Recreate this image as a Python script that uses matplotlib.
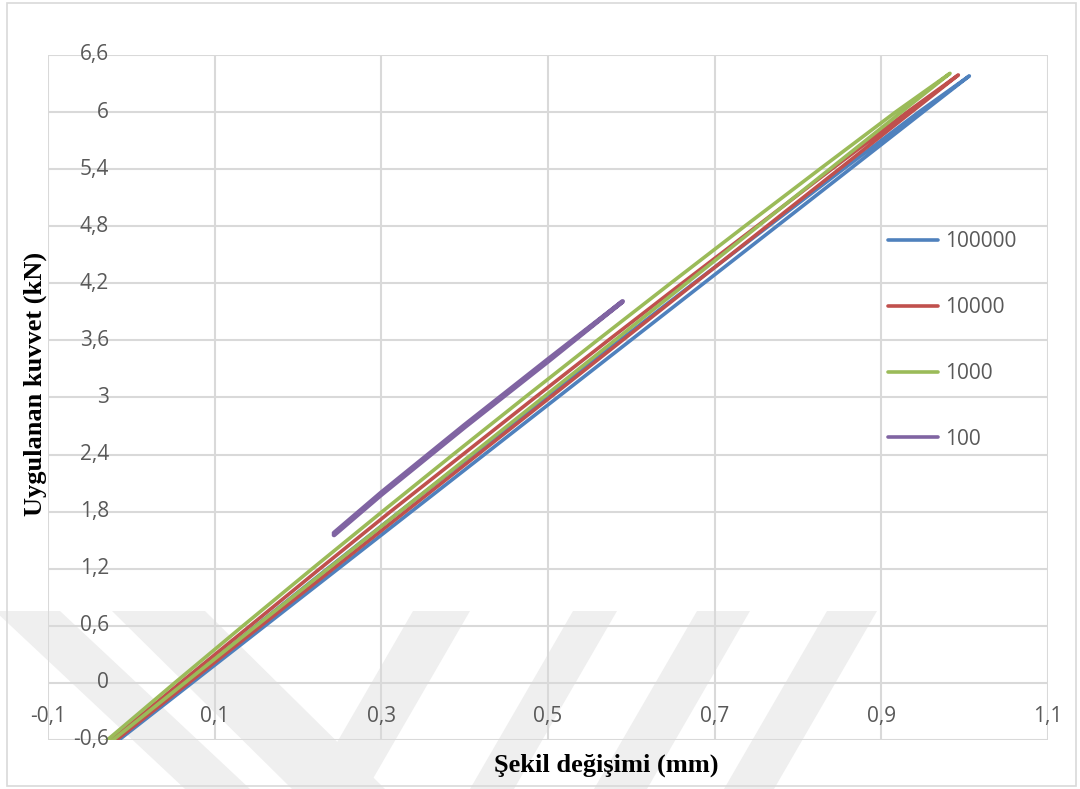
import matplotlib
matplotlib.use("Agg")
import matplotlib.pyplot as plt
from matplotlib.patches import Polygon, Rectangle

# Applied force levels (kN) at which each loop branch is tabulated
force_levels = [-0.7, 0.0, 0.6, 1.2, 1.8, 2.4, 3.0, 3.6, 4.2, 4.8, 5.4, 6.0]

series_labels = ["100000", "10000", "1000", "100"]
series_colors = ["#4F81BD", "#C0504D", "#9BBB59", "#8064A2"]

# Peak of each loop (deformation mm, force kN)
peak_100000 = (1.0056, 6.38)
peak_10000 = (0.9924, 6.39)
peak_1000 = (0.9824, 6.407)

# Deformation (mm) of loading / unloading branches at force_levels
load_100000 = [-0.0296, 0.0727, 0.1604, 0.2482, 0.3359, 0.4236, 0.5113, 0.5990, 0.6868, 0.7745, 0.8622, 0.9499]
unload_100000 = [-0.0336, 0.0647, 0.1494, 0.2352, 0.3219, 0.4096, 0.4973, 0.5860, 0.6748, 0.7645, 0.8542, 0.9449]

load_10000 = [-0.0325, 0.0687, 0.1555, 0.2422, 0.3289, 0.4157, 0.5024, 0.5891, 0.6758, 0.7626, 0.8493, 0.9360]
unload_10000 = [-0.0375, 0.0587, 0.1425, 0.2262, 0.3109, 0.3977, 0.4844, 0.5721, 0.6608, 0.7506, 0.8403, 0.9310]

load_1000 = [-0.0363, 0.0640, 0.1500, 0.2360, 0.3220, 0.4080, 0.4940, 0.5800, 0.6660, 0.7520, 0.8380, 0.9240]
unload_1000 = [-0.0423, 0.0520, 0.1340, 0.2170, 0.3010, 0.3860, 0.4720, 0.5590, 0.6470, 0.7360, 0.8260, 0.9170]

# The 100-cycle record only spans part of the range
load_100_x = [0.2432, 0.300, 0.400, 0.500, 0.5896]
load_100_y = [1.555, 1.980, 2.690, 3.380, 4.010]
unload_100_x = [0.5896, 0.500, 0.400, 0.300, 0.2432]
unload_100_y = [4.010, 3.400, 2.710, 2.000, 1.575]

x_ticks = [-0.1, 0.1, 0.3, 0.5, 0.7, 0.9, 1.1]
x_tick_labels = ["-0,1", "0,1", "0,3", "0,5", "0,7", "0,9", "1,1"]
y_ticks = [-0.6, 0.0, 0.6, 1.2, 1.8, 2.4, 3.0, 3.6, 4.2, 4.8, 5.4, 6.0, 6.6]
y_tick_labels = ["-0,6", "0", "0,6", "1,2", "1,8", "2,4", "3", "3,6", "4,2", "4,8", "5,4", "6", "6,6"]


def closed_loop(load, unload, peak):
    xs = list(load) + [peak[0]] + list(reversed(unload))
    ys = list(force_levels) + [peak[1]] + list(reversed(force_levels))
    return xs, ys


W, H = 1080, 789
fig = plt.figure(figsize=(W / 100, H / 100), dpi=100)
fig.patch.set_facecolor("white")


def px(x, y):
    return (x / W, 1 - y / H)


# background layer: faint diagonal band pattern and outer chart border
bg = fig.add_axes([0, 0, 1, 1], zorder=-5)
bg.set_xlim(0, W)
bg.set_ylim(H, 0)
bg.axis("off")
band_color = "#efefef"
bands = [
    [(-5, 611), (60, 611), (250, 789), (185, 789)],
    [(112, 611), (205, 611), (385, 789), (292, 789)],
    [(413, 611), (470, 611), (367, 789), (310, 789)],
    [(573, 611), (617, 611), (514, 789), (470, 789)],
    [(697, 611), (750, 611), (647, 789), (594, 789)],
    [(827, 611), (877, 611), (774, 789), (724, 789)],
]
for b in bands:
    bg.add_patch(Polygon(b, closed=True, facecolor=band_color, edgecolor="none"))
bg.add_patch(Rectangle((7, 3), 1069, 783, facecolor="none", edgecolor="#d9d9d9", linewidth=1.2))

ax = fig.add_axes([48 / W, 1 - 740 / H, 1000 / W, 685 / H], zorder=1)
ax.set_facecolor("none")
ax.set_xlim(-0.1, 1.1)
ax.set_ylim(-0.6, 6.6)
ax.set_xticks(x_ticks)
ax.set_yticks(y_ticks)
ax.tick_params(length=0, labelbottom=False, labelleft=False)
for s in ax.spines.values():
    s.set_visible(False)
ax.grid(True, color="#d9d9d9", linewidth=1.5)
ax.set_axisbelow(True)

tick_font = dict(family="Open Sans", size=15, color="#595959")
for v, lab in zip(y_ticks, y_tick_labels):
    ax.text(-0.027, v, lab, ha="right", va="center", **tick_font)
for v, lab in zip(x_ticks, x_tick_labels):
    ax.text(v, -0.35, lab, ha="center", va="center", **tick_font)

lw = 2.6
for (load, unload, peak), lab, col in zip(
        [(load_100000, unload_100000, peak_100000),
         (load_10000, unload_10000, peak_10000),
         (load_1000, unload_1000, peak_1000)],
        series_labels[:3], series_colors[:3]):
    xs, ys = closed_loop(load, unload, peak)
    ax.plot(xs, ys, color=col, linewidth=lw, label=lab, solid_joinstyle="round",
            solid_capstyle="round")

ax.plot(load_100_x + unload_100_x, load_100_y + unload_100_y, color=series_colors[3],
        linewidth=lw + 0.8, label=series_labels[3], solid_joinstyle="round",
        solid_capstyle="round")

leg = ax.legend(loc="center left", bbox_to_anchor=(888 / W, 1 - 340.5 / H),
                bbox_transform=fig.transFigure, frameon=False,
                prop={"family": "Open Sans", "size": 15},
                handlelength=2.4, handletextpad=0.35, labelspacing=2.15,
                borderpad=0, borderaxespad=0)
for t in leg.get_texts():
    t.set_color("#595959")
for l in leg.get_lines():
    l.set_linewidth(2.6)

title_font = dict(family="Liberation Serif", weight="bold", size=19, color="black")
fig.text(606 / W, 1 - 765 / H, "Şekil değişimi (mm)", ha="center", va="center", **title_font)
fig.text(35 / W, 1 - 384 / H, "Uygulanan kuvvet (kN)", ha="center", va="center",
         rotation=90, **title_font)

fig.savefig("out.png", dpi=100)
